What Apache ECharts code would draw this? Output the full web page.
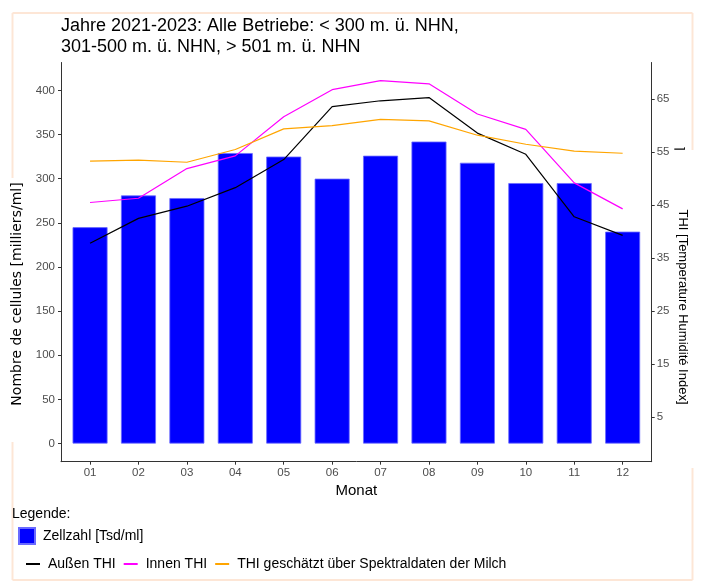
<!DOCTYPE html>
<html>
<head>
<meta charset="utf-8">
<script src="https://cdn.jsdelivr.net/npm/echarts@6/dist/echarts.min.js"></script>
<style>
  html, body { margin: 0; padding: 0; background: #ffffff; }
  #chart { width: 701px; height: 586px; }
</style>
</head>
<body>
<div id="chart"></div>
<script>
// Monthly values, 2021-2023, all farms
const months = ['01', '02', '03', '04', '05', '06', '07', '08', '09', '10', '11', '12'];
const zellzahl = [245, 281, 278, 329, 325, 300, 326, 342, 318, 295, 295, 240];
const aussenTHI = [37.8, 42.5, 44.8, 48.3, 53.6, 63.6, 64.7, 65.3, 58.6, 54.6, 42.8, 39.3];
const innenTHI = [45.5, 46.3, 51.9, 54.3, 61.7, 66.8, 68.5, 67.9, 62.2, 59.3, 49.2, 44.3];
const thiMilch = [53.3, 53.5, 53.1, 55.5, 59.4, 60.0, 61.2, 60.9, 58.2, 56.5, 55.2, 54.8];
const leftTicks = [0, 50, 100, 150, 200, 250, 300, 350, 400];
const rightTicks = [5, 15, 25, 35, 45, 55, 65];

const SANS = "'Liberation Sans', Arial, sans-serif";
const DEJAVU = "'DejaVu Sans', sans-serif";
const monthPos = months.map((m, i) => i + 1);
const pairs = arr => arr.map((v, i) => [monthPos[i], v]);

// secondary axis is the primary one divided by 6
const RATIO = 6;
const yMin = -20.55, yMax = 431.55;

const chart = echarts.init(document.getElementById('chart'), null, { renderer: 'canvas' });

const frameColor = '#fde6d6';
const axisColor = '#333333';
const labelColor = '#4d4d4d';

chart.setOption({
  animation: false,
  backgroundColor: '#ffffff',
  title: {
    text: 'Jahre 2021-2023: Alle Betriebe: < 300 m. ü. NHN,\n301-500 m. ü. NHN, > 501 m. ü. NHN',
    left: 61,
    top: 16,
    padding: 0,
    textStyle: { fontFamily: SANS, fontSize: 18, fontWeight: 'normal', color: '#000000', lineHeight: 21 }
  },
  grid: { left: 61, top: 62.5, width: 590.7, height: 399.2, containLabel: false },
  xAxis: {
    type: 'value',
    min: 0.4,
    max: 12.6,
    name: 'Monat',
    nameLocation: 'middle',
    nameGap: 20,
    nameTextStyle: { fontFamily: SANS, fontSize: 15, color: '#000000', verticalAlign: 'top' },
    axisLine: { show: true, onZero: false, lineStyle: { color: axisColor, width: 1 } },
    axisTick: { show: true, length: 3, customValues: monthPos, lineStyle: { color: axisColor } },
    axisLabel: {
      customValues: monthPos,
      margin: 5,
      fontFamily: SANS, fontSize: 11.5, color: labelColor,
      formatter: v => months[Math.round(v) - 1] || ''
    },
    splitLine: { show: false }
  },
  yAxis: [
    {
      type: 'value',
      min: yMin,
      max: yMax,
      axisLine: { show: true, onZero: false, lineStyle: { color: axisColor, width: 1 } },
      axisTick: { show: true, length: 3, customValues: leftTicks, lineStyle: { color: axisColor } },
      axisLabel: { customValues: leftTicks, margin: 6, fontFamily: SANS, fontSize: 11.5, color: labelColor },
      splitLine: { show: false }
    },
    {
      type: 'value',
      position: 'right',
      min: yMin / RATIO,
      max: yMax / RATIO,
      axisLine: { show: true, onZero: false, lineStyle: { color: axisColor, width: 1 } },
      axisTick: { show: true, length: 3, customValues: rightTicks, lineStyle: { color: axisColor } },
      axisLabel: { customValues: rightTicks, margin: 5, fontFamily: SANS, fontSize: 11.5, color: labelColor },
      splitLine: { show: false }
    }
  ],
  legend: [
    {
      data: [{ name: 'Zellzahl [Tsd/ml]', icon: 'rect' }],
      left: 18, top: 527,
      padding: 0,
      itemWidth: 16, itemHeight: 16,
      textStyle: { fontFamily: SANS, fontSize: 14, color: '#000000', padding: [0, 0, 0, 3] }
    },
    {
      data: [
        { name: 'Außen THI', icon: 'rect' },
        { name: 'Innen THI', icon: 'rect' },
        { name: 'THI geschätzt über Spektraldaten der Milch', icon: 'rect' }
      ],
      left: 26, top: 557,
      padding: 0,
      itemWidth: 14, itemHeight: 2,
      itemGap: 8,
      textStyle: { fontFamily: SANS, fontSize: 14, color: '#000000', padding: [0, 0, 0, 3] }
    }
  ],
  graphic: [
    // light outer frame, interrupted beside the axis titles
    { type: 'line', silent: true, shape: { x1: 12.5, y1: 13, x2: 692.5, y2: 13 }, style: { stroke: frameColor, lineWidth: 2 } },
    { type: 'line', silent: true, shape: { x1: 12.5, y1: 580, x2: 692.5, y2: 580 }, style: { stroke: frameColor, lineWidth: 2 } },
    { type: 'line', silent: true, shape: { x1: 12.5, y1: 13, x2: 12.5, y2: 178 }, style: { stroke: frameColor, lineWidth: 2 } },
    { type: 'line', silent: true, shape: { x1: 12.5, y1: 442, x2: 12.5, y2: 580 }, style: { stroke: frameColor, lineWidth: 2 } },
    { type: 'line', silent: true, shape: { x1: 692.5, y1: 13, x2: 692.5, y2: 150 }, style: { stroke: frameColor, lineWidth: 2 } },
    { type: 'line', silent: true, shape: { x1: 692.5, y1: 468, x2: 692.5, y2: 580 }, style: { stroke: frameColor, lineWidth: 2 } },
    {
      type: 'text', silent: true, x: 17, y: 294, rotation: Math.PI / 2,
      style: { text: 'Nombre de cellules [milliers/ml]', fontFamily: DEJAVU, fontSize: 14, fill: '#000000', align: 'center', verticalAlign: 'middle' }
    },
    {
      type: 'text', silent: true, x: 683, y: 307, rotation: -Math.PI / 2,
      style: { text: 'THI [Temperature Humidité Index]', fontFamily: SANS, fontSize: 13, fill: '#000000', align: 'center', verticalAlign: 'middle' }
    },
    {
      type: 'text', silent: true, x: 679, y: 148, rotation: -Math.PI / 2,
      style: { text: '⌉', fontFamily: DEJAVU, fontSize: 12, fill: '#000000', align: 'center', verticalAlign: 'middle' }
    },
    {
      type: 'text', silent: true, x: 12, y: 514,
      style: { text: 'Legende:', fontFamily: SANS, fontSize: 14, fill: '#000000', align: 'left', verticalAlign: 'middle' }
    }
  ],
  series: [
    {
      name: 'Zellzahl [Tsd/ml]',
      type: 'bar',
      yAxisIndex: 0,
      barWidth: 35,
      data: pairs(zellzahl),
      itemStyle: { color: '#0000ff', borderColor: '#6a6aff', borderWidth: 0.8 }
    },
    {
      name: 'Außen THI', type: 'line', yAxisIndex: 1, symbol: 'none',
      data: pairs(aussenTHI), lineStyle: { color: '#000000', width: 1.2 }, itemStyle: { color: '#000000' }
    },
    {
      name: 'Innen THI', type: 'line', yAxisIndex: 1, symbol: 'none',
      data: pairs(innenTHI), lineStyle: { color: '#ff00ff', width: 1.2 }, itemStyle: { color: '#ff00ff' }
    },
    {
      name: 'THI geschätzt über Spektraldaten der Milch', type: 'line', yAxisIndex: 1, symbol: 'none',
      data: pairs(thiMilch), lineStyle: { color: '#ffa500', width: 1.2 }, itemStyle: { color: '#ffa500' }
    }
  ]
});
</script>
</body>
</html>
